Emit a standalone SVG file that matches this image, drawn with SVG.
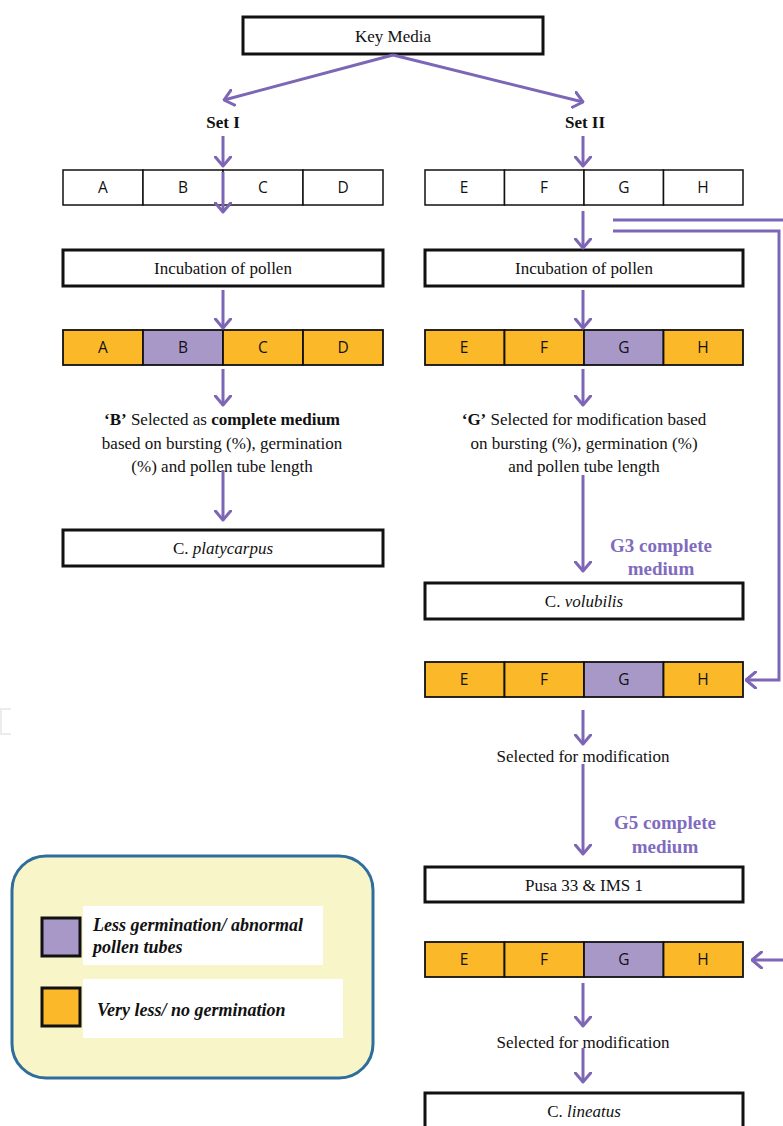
<svg xmlns="http://www.w3.org/2000/svg" width="783" height="1126" viewBox="0 0 783 1126">
<style>
.t{font-family:"Liberation Serif","Times New Roman",serif;font-size:17px;fill:#111;text-anchor:middle}
.b{font-weight:bold}
.c{font-family:"Open Sans","Liberation Sans",Arial,sans-serif;font-size:15.5px;fill:#111;text-anchor:middle}
.box{fill:#fff;stroke:#111;stroke-width:3}
.cell{fill:#fff;stroke:#111;stroke-width:1.5}
.o{fill:#fbb829;stroke:#111;stroke-width:1.8}
.p{fill:#a898c8;stroke:#111;stroke-width:1.8}
.con{fill:none;stroke:#7e66b6;stroke-width:3}
.pt{font-family:"Liberation Serif","Times New Roman",serif;font-size:19px;font-weight:bold;fill:#806bbf;text-anchor:middle}
.lg{font-family:"Liberation Serif","Times New Roman",serif;font-size:18px;font-weight:bold;font-style:italic;fill:#111}
</style>
<defs>
<marker id="ah" viewBox="0 0 12 18" refX="10.5" refY="9" markerWidth="12" markerHeight="18" markerUnits="userSpaceOnUse" orient="auto">
<path d="M1,1 L10.5,9 L1,17" fill="none" stroke="#7e66b6" stroke-width="3" stroke-linecap="round" stroke-linejoin="round"/>
</marker>
</defs>
<rect width="783" height="1126" fill="#fff"/>
<path d="M11,709 H1 V734 H11" fill="none" stroke="#ececec" stroke-width="2"/>

<g id="key-media"><rect class="box" x="243" y="17" width="300" height="37"/><text class="t" x="393" y="42">Key Media</text></g>
<g id="set1"><text class="t b" x="223" y="128">Set I</text></g>
<g id="set2"><text class="t b" x="585" y="128">Set II</text></g>

<g id="row1-left">
<rect class="cell" x="63" y="170" width="80" height="35"/><rect class="cell" x="143" y="170" width="80" height="35"/><rect class="cell" x="223" y="170" width="80" height="35"/><rect class="cell" x="303" y="170" width="80" height="35"/>
<text class="c" x="103" y="193">A</text><text class="c" x="183" y="193">B</text><text class="c" x="263" y="193">C</text><text class="c" x="343" y="193">D</text>
</g>
<g id="row1-right">
<rect class="cell" x="425" y="170" width="79.5" height="35"/><rect class="cell" x="504.5" y="170" width="79.5" height="35"/><rect class="cell" x="584" y="170" width="79.5" height="35"/><rect class="cell" x="663.5" y="170" width="79.5" height="35"/>
<text class="c" x="464" y="193">E</text><text class="c" x="544" y="193">F</text><text class="c" x="624" y="193">G</text><text class="c" x="703" y="193">H</text>
</g>

<g id="incubation-left"><rect class="box" x="63" y="250" width="320" height="36"/><text class="t" x="223" y="274">Incubation of pollen</text></g>
<g id="incubation-right"><rect class="box" x="425" y="250" width="318" height="36"/><text class="t" x="584" y="274">Incubation of pollen</text></g>

<g id="row2-left">
<rect class="o" x="63" y="330" width="80" height="35"/><rect class="p" x="143" y="330" width="80" height="35"/><rect class="o" x="223" y="330" width="80" height="35"/><rect class="o" x="303" y="330" width="80" height="35"/>
<text class="c" x="103" y="353">A</text><text class="c" x="183" y="353">B</text><text class="c" x="263" y="353">C</text><text class="c" x="343" y="353">D</text>
</g>
<g id="row2-right">
<rect class="o" x="425" y="330" width="79.5" height="35"/><rect class="o" x="504.5" y="330" width="79.5" height="35"/><rect class="p" x="584" y="330" width="79.5" height="35"/><rect class="o" x="663.5" y="330" width="79.5" height="35"/>
<text class="c" x="464" y="353">E</text><text class="c" x="544" y="353">F</text><text class="c" x="624" y="353">G</text><text class="c" x="703" y="353">H</text>
</g>

<g id="select-b">
<text class="t" x="222" y="425"><tspan class="b">‘B’</tspan> Selected as <tspan class="b">complete medium</tspan></text>
<text class="t" x="222" y="449">based on bursting (%), germination</text>
<text class="t" x="222" y="472">(%) and pollen tube length</text>
</g>
<g id="select-g">
<text class="t" x="584" y="425"><tspan class="b">‘G’</tspan> Selected for modification based</text>
<text class="t" x="584" y="449">on bursting (%), germination (%)</text>
<text class="t" x="584" y="472">and pollen tube length</text>
</g>

<g id="platycarpus"><rect class="box" x="63" y="530" width="320" height="36"/><text class="t" x="223" y="554">C. <tspan font-style="italic">platycarpus</tspan></text></g>
<g id="g3-label"><text class="pt" x="661" y="552">G3 complete</text><text class="pt" x="661" y="575">medium</text></g>
<g id="volubilis"><rect class="box" x="425" y="583" width="318" height="36"/><text class="t" x="584" y="607">C. <tspan font-style="italic">volubilis</tspan></text></g>

<g id="row3">
<rect class="o" x="425" y="662" width="79.5" height="35"/><rect class="o" x="504.5" y="662" width="79.5" height="35"/><rect class="p" x="584" y="662" width="79.5" height="35"/><rect class="o" x="663.5" y="662" width="79.5" height="35"/>
<text class="c" x="464" y="685">E</text><text class="c" x="544" y="685">F</text><text class="c" x="624" y="685">G</text><text class="c" x="703" y="685">H</text>
</g>
<g id="select-mod-1"><text class="t" x="583" y="762">Selected for modification</text></g>
<g id="g5-label"><text class="pt" x="665" y="829">G5 complete</text><text class="pt" x="665" y="853">medium</text></g>
<g id="pusa"><rect class="box" x="425" y="867" width="318" height="35"/><text class="t" x="584" y="891">Pusa 33 &amp; IMS 1</text></g>

<g id="row4">
<rect class="o" x="425" y="942" width="79.5" height="35"/><rect class="o" x="504.5" y="942" width="79.5" height="35"/><rect class="p" x="584" y="942" width="79.5" height="35"/><rect class="o" x="663.5" y="942" width="79.5" height="35"/>
<text class="c" x="464" y="965">E</text><text class="c" x="544" y="965">F</text><text class="c" x="624" y="965">G</text><text class="c" x="703" y="965">H</text>
</g>
<g id="select-mod-2"><text class="t" x="583" y="1048">Selected for modification</text></g>
<g id="lineatus"><rect class="box" x="425" y="1093" width="318" height="40"/><text class="t" x="584" y="1117">C. <tspan font-style="italic">lineatus</tspan></text></g>

<g id="legend">
<rect x="12" y="856" width="361" height="222" rx="34" fill="#f8f6c8" stroke="#2f6e9c" stroke-width="3"/>
<rect x="83" y="906" width="240" height="59" fill="#fff"/>
<rect x="83" y="979" width="260" height="59" fill="#fff"/>
<rect x="42" y="918" width="38" height="38" fill="#a898c8" stroke="#111" stroke-width="3"/>
<rect x="42" y="988" width="38" height="38" fill="#fbb829" stroke="#111" stroke-width="3"/>
<text class="lg" x="93" y="931">Less germination/ abnormal</text>
<text class="lg" x="93" y="953">pollen tubes</text>
<text class="lg" x="97" y="1016">Very less/ no germination</text>
</g>

<g id="connectors">
<path class="con" d="M393,55 L224,100" marker-end="url(#ah)"/>
<path class="con" d="M393,55 L583,102" marker-end="url(#ah)"/>
<path class="con" d="M223,136 V166" marker-end="url(#ah)"/>
<path class="con" d="M583,136 V166" marker-end="url(#ah)"/>
<path class="con" d="M223,172 V212" marker-end="url(#ah)"/>
<path class="con" d="M583,211 V248" marker-end="url(#ah)"/>
<path class="con" d="M223,290 V328" marker-end="url(#ah)"/>
<path class="con" d="M583,290 V328" marker-end="url(#ah)"/>
<path class="con" d="M223,369 V405" marker-end="url(#ah)"/>
<path class="con" d="M583,369 V405" marker-end="url(#ah)"/>
<path class="con" d="M223,470 V520" marker-end="url(#ah)"/>
<path class="con" d="M583,475 V571" marker-end="url(#ah)"/>
<path class="con" d="M613,231 H779 V680 H746" marker-end="url(#ah)"/>
<path class="con" d="M613,220 H790 V960 H752" marker-end="url(#ah)"/>
<path class="con" d="M583,710 V744" marker-end="url(#ah)"/>
<path class="con" d="M583,764 V854" marker-end="url(#ah)"/>
<path class="con" d="M583,983 V1026" marker-end="url(#ah)"/>
<path class="con" d="M583,1048 V1082" marker-end="url(#ah)"/>
</g>
</svg>
